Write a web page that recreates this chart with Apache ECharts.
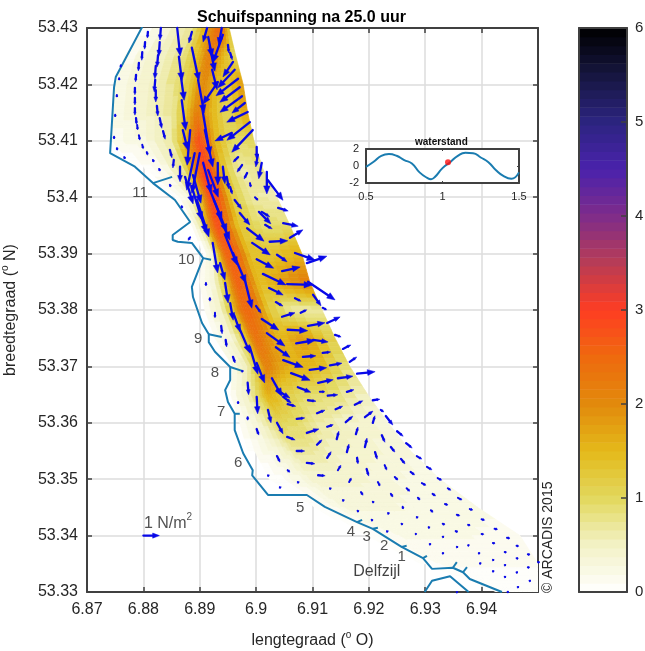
<!DOCTYPE html>
<html><head><meta charset="utf-8">
<style>html,body{margin:0;padding:0;background:#fff}#c{width:645px;height:651px}</style>
<script src="https://cdn.jsdelivr.net/npm/echarts@6/dist/echarts.min.js"></script>
</head><body><div id="c"></div>
<script>
const colorStops=[0,0.5,1,1.5,2,2.5,3,3.5,4,4.5,5,5.5,6];
const colorHex=['#ffffff','#f3f2c6','#e2d85e','#e4b91a','#e28a0c','#ee6a0e','#ff3d22','#b83c55','#7f2c8a','#4a22ac','#2c2480','#161640','#000000'];
const xTickFont=16;
const fieldLat=[53.43,53.425,53.42,53.415,53.41,53.405,53.40,53.395,53.39,53.385,53.38,53.375,53.37,53.365,53.36,53.355,53.35,53.345,53.34,53.335,53.33];
const fieldLeft=[6.8799,6.8767,6.8751,6.8746,6.8744,6.8787,6.8856,6.8886,6.8906,6.8900,6.8909,6.8927,6.8959,6.8955,6.8971,6.8985,6.9010,6.9095,6.9175,6.9273,6.9397];
const fieldRidge=[6.8927,6.8913,6.8900,6.8895,6.8897,6.8909,6.8922,6.8932,6.8950,6.8968,6.8985,6.9003,6.9024,6.9028,6.9051,6.9078,6.9113,6.9166,6.9255,6.9344,6.9432];
const fieldRight=[6.8952,6.8964,6.8977,6.8985,6.8996,6.9012,6.9037,6.9060,6.9081,6.9095,6.9117,6.9140,6.9166,6.9198,6.9234,6.9274,6.9326,6.9393,6.9468,6.95,6.95];
const fieldFracLeft=[0,0.4,0.7,0.88,1];
const fieldFracRight=[0.12,0.3,0.6,1];
const fieldValues=[
[0,0.4,0.8,1.7,2.2,2.4,2.6,2.4,1.2],
[0.1,0.5,0.8,1.4,2.1,2.2,2.0,1.5,0.9],
[0.2,0.5,0.8,1.2,1.9,2.0,1.6,1.2,1.9],
[0.2,0.45,0.7,1.4,2.2,2.0,1.5,1.0,1.8],
[0.1,0.3,0.7,1.7,2.8,2.6,1.6,1.0,1.0],
[0,0.15,0.8,2.4,3.0,2.7,1.4,0.6,0.8],
[0,0.3,1.4,2.6,3.0,2.7,1.3,0.7,0.6],
[0,0.8,2.1,2.6,2.8,2.4,1.3,0.9,0.9],
[0,0.4,1.8,2.5,2.6,2.6,1.4,1.3,1.6],
[0.1,0.4,1.4,2.3,2.6,2.4,1.4,1.8,2.2],
[0.1,0.5,1.6,2.4,2.5,2.3,1.2,0.6,0.7],
[0.1,0.4,1.2,2.2,2.4,2.0,1.5,1.9,1.0],
[0.2,0.6,1.4,2.1,2.1,1.8,1.6,1.5,0.8],
[0.1,0.5,1.1,1.6,1.6,1.2,1.0,0.9,0.5],
[0.1,0.4,0.8,1.1,1.0,1.0,0.7,0.5,0.3],
[0,0.25,0.45,0.7,0.7,0.7,0.5,0.4,0.3],
[0,0.1,0.3,0.4,0.4,0.4,0.4,0.3,0.2],
[0,0.1,0.2,0.3,0.3,0.3,0.3,0.25,0.2],
[0,0.05,0.1,0.15,0.2,0.2,0.2,0.2,0.15],
[0,0.05,0.1,0.1,0.1,0.1,0.1,0.1,0.1],
[0,0,0,0.05,0.05,0.05,0.05,0.05,0.05]
];
const coastMain=[[6.8798,53.4302],[6.8751,53.4213],[6.8748,53.4195],[6.8741,53.4078],[6.8785,53.4054],[6.8817,53.4025],[6.8856,53.3995],[6.8883,53.3956],[6.8852,53.3933],[6.8852,53.3924],[6.8861,53.3921],[6.8886,53.3919],[6.8906,53.3892],[6.8886,53.3841],[6.8888,53.3823],[6.8904,53.3777],[6.8916,53.3757],[6.8916,53.3743],[6.8927,53.3726],[6.8954,53.3699],[6.8954,53.3676],[6.8945,53.3658],[6.8950,53.3637],[6.8962,53.3616],[6.8962,53.3587],[6.8977,53.3546],[6.8994,53.3516],[6.8993,53.3507],[6.9021,53.3472],[6.9090,53.3472],[6.9122,53.3451],[6.9179,53.3424],[6.9207,53.3412],[6.9258,53.3380],[6.9296,53.3360],[6.9312,53.3341],[6.9349,53.3343],[6.9367,53.3335],[6.9379,53.3323],[6.9436,53.33]];
const coastIsland=[[6.9299,53.33],[6.9312,53.332],[6.9344,53.3328],[6.9377,53.33]];
const coastGroynes=[
[[6.8817,53.4025],[6.8851,53.4036]],
[[6.8906,53.3892],[6.8920,53.3889]],
[[6.8916,53.3757],[6.8939,53.3752]],
[[6.8954,53.3699],[6.8975,53.3692]],
[[6.8962,53.3616],[6.8971,53.3616]],
[[6.9179,53.3424],[6.9188,53.3428]],
[[6.9207,53.3412],[6.9216,53.3414]],
[[6.9258,53.3380],[6.9267,53.3382]],
[[6.9296,53.3360],[6.9303,53.3364]],
[[6.9349,53.3343],[6.9356,53.3353]],
[[6.9367,53.3335],[6.9374,53.3344]]
];
const placeLabels=[['11',6.8794,53.4007],['10',6.8876,53.3889],['9',6.8897,53.3749],['8',6.8927,53.3688],['7',6.8938,53.3619],['6',6.8968,53.3529],['5',6.9078,53.3449],['4',6.9168,53.3406],['3',6.9196,53.3398],['2',6.9227,53.3382],['1',6.9258,53.3362]];
const delfzijlLabel=['Delfzijl',6.9214,53.3337];
const refVector=[6.88,53.34,1,0];
const arrowScale=0.00284;
const vectors=[
[6.8760,53.4234,0,-.13],[6.8757,53.4211,0,-.13],[6.8753,53.4181,0,-.13],[6.8750,53.4146,0,-.13],[6.8748,53.4107,0,-.13],[6.8753,53.4087,.03,-.13],[6.8766,53.4071,.06,-.1],
[6.8808,53.4293,-.03,-.38],[6.8803,53.4275,-.03,-.44],[6.8798,53.4257,-.03,-.5],[6.8792,53.4238,-.03,-.5],[6.8787,53.4217,-.03,-.44],[6.8785,53.4194,0,-.44],[6.8785,53.4176,0,-.44],[6.8785,53.4158,0,-.44],[6.8787,53.4140,.03,-.38],[6.8789,53.4128,.03,-.31],[6.8792,53.4110,.06,-.31],[6.8798,53.4093,.06,-.25],[6.8806,53.4080,.06,-.19],[6.8817,53.4066,.06,-.13],[6.8828,53.4050,.06,-.13],[6.8847,53.4022,.06,-.13],[6.8868,53.3984,.03,-.13],
[6.8831,53.43,-.06,-.75],[6.8829,53.4275,-.06,-.88],[6.8826,53.4252,-.06,-.75],[6.8822,53.4233,-.06,-.81],[6.8821,53.4208,-.06,-.75],[6.8822,53.4190,0,-.75],[6.8824,53.4162,.06,-.63],[6.8829,53.4140,.13,-.63],[6.8835,53.4117,.13,-.5],[6.8847,53.4084,.13,-.5],[6.8854,53.4066,-.06,-.5],[6.8865,53.4054,0,-.94],
[6.8860,53.43,.19,-1.75],[6.8863,53.4249,.19,-1.5],[6.8867,53.4211,.19,-1.38],[6.8868,53.4172,.25,-1.88],[6.8870,53.4119,.31,-1.25],[6.8883,53.4119,-.19,-2.19],[6.8891,53.4078,-.5,-2.31],[6.8900,53.4078,-.5,-2.5],[6.8874,53.4036,.5,-1.69],[6.8888,53.4039,.5,-1.75],[6.8886,53.4018,.63,-2.06],[6.8900,53.3972,.44,-1.25],[6.8895,53.3995,.75,-2.31],
[6.8886,53.4293,-.19,-.69],[6.8886,53.4265,.44,-2.06],[6.8897,53.4208,.38,-2.06],[6.8904,53.4160,.5,-3],[6.8909,53.4119,.5,-2.31],[6.8906,53.4061,.5,-1.88],[6.8915,53.4048,.63,-1.69],[6.8918,53.4013,.75,-1.88],[6.8932,53.3972,.75,-1.69],[6.8925,53.3995,.81,-2],[6.8945,53.3933,.75,-1.88],[6.8959,53.3901,.81,-1.88],[6.8980,53.3853,.44,-1.75],[6.8923,53.3919,.31,-1.88],[6.8936,53.3883,.31,-1.06],[6.8945,53.3848,.19,-1.25],[6.8954,53.3812,.19,-1.06],[6.8961,53.3791,.38,-1.06],[6.8968,53.3773,.75,-1.75],[6.8989,53.3734,.5,-1.69],[6.9001,53.3706,.5,-1.25],
[6.8913,53.43,-.25,-.88],[6.8915,53.4284,.25,-1.25],[6.8918,53.4266,.31,-1.5],[6.8922,53.4226,.31,-1.25],
[6.8939,53.43,-.19,-1.06],[6.8941,53.4288,-.63,-1.75],[6.8950,53.4270,.06,-.5],[6.8954,53.4256,.13,-.44],[6.8959,53.4240,-.63,-.94],[6.8962,53.4226,-1.06,-1.13],[6.8968,53.4210,-1.38,-1.06],[6.8971,53.4195,-1.25,-.94],[6.8975,53.4179,-1.38,-1],[6.8980,53.4167,-.81,-.63],[6.8985,53.4151,-1.31,-.63],[6.8989,53.4133,-1.44,-1.13],[6.8994,53.4119,-1.31,-1.38],[6.8957,53.4114,-1.06,-.5],[6.8932,53.4204,-.94,-1.38],[6.8932,53.4061,0,-1.38],[6.8941,53.4054,.13,-1.06],[6.8948,53.4036,.13,-.75],[6.8954,53.4018,.13,-.44],
[6.9001,53.4089,0,-.75],[6.9003,53.4075,-.13,-.75],[6.9010,53.4061,-.19,-1],[6.9019,53.4045,0,-1.38],[6.9021,53.4030,.94,-1.25],[6.8968,53.4071,-.31,-.31],[6.8975,53.4057,-.31,-.44],[6.8984,53.4043,-.19,-.38],[6.8989,53.4025,.06,-.25],[6.8998,53.4000,.19,-.19],[6.8962,53.3995,.44,-.56],[6.9010,53.3974,.5,-.31],[6.9039,53.3981,.63,-.19],[6.8971,53.3972,.63,-.75],[6.9005,53.3974,.75,-.75],[6.9016,53.3951,.44,-.25],[6.9048,53.3954,.94,-.19],[6.9060,53.3928,.81,.5],[6.9024,53.3921,1.13,.06],[6.8984,53.3945,1.06,-.81],[6.8993,53.3919,1.13,-.75],[6.9001,53.3890,1.06,-.56],[6.9037,53.3898,.63,-.44],[6.9069,53.3901,1.25,-.44],[6.9090,53.3883,1.25,.44],[6.9046,53.3869,1.13,.25],[6.9012,53.3864,1.44,-.69],[6.9055,53.3846,1.56,-.06],[6.9092,53.3850,1.69,-1.13],[6.9023,53.3839,.88,-.44],[6.9069,53.3821,.38,-.19],[6.9101,53.3827,.5,-.69],[6.9035,53.3814,.44,-.25],[6.9118,53.3804,.25,-.13],[6.9000,53.3807,.31,-.44],[6.9046,53.3788,.81,.25],[6.9079,53.3795,.38,.19],[6.9010,53.3784,1.06,-.69],[6.9092,53.3772,1.06,.19],[6.9126,53.3777,.81,.38],[6.9056,53.3765,1.25,-.06],[6.9019,53.3759,1.13,-.81],[6.9140,53.3756,.38,-.13],[6.9101,53.3747,.94,-.13],[6.9071,53.3741,1.19,.19],[6.9035,53.3734,.88,-.63],[6.9154,53.3731,.5,.25],[6.9083,53.3717,.81,.06],[6.9118,53.3724,.5,.06],[6.9048,53.3711,1.25,-.44],[6.9131,53.3702,.75,.13],[6.9166,53.3708,.44,.31],[6.9095,53.3694,1.06,.13],[6.9062,53.3688,1.19,-.44],[6.9145,53.3679,.94,.13],[6.9110,53.3671,.94,.19],[6.9179,53.3687,1.13,.13],[6.9028,53.3679,.63,-1.13],[6.9074,53.3663,.81,-.31],[6.9161,53.3655,.44,.13],[6.9113,53.3655,.31,0],[6.9048,53.3646,.5,-.38],[6.8985,53.3671,.06,-.75],[6.9001,53.3646,.06,-1.06],
[6.8883,53.3929,-.13,-.19],[6.8911,53.3848,0,-.19],[6.8918,53.3821,0,-.19],[6.8927,53.3795,0,-.31],[6.8938,53.3772,.06,-.5],[6.8946,53.3747,.06,-.44],[6.8959,53.3717,.13,-.38],[6.8975,53.3692,.06,-.06],[6.8968,53.3637,0,-.13],[6.8985,53.3610,0,-.19],[6.9001,53.3589,.13,-.38],[6.9021,53.3623,.19,-.81],[6.9037,53.3600,.38,-.69],[6.9037,53.3658,.81,-.5],[6.9055,53.3575,.5,-.19],[6.9056,53.3633,.5,-.13],[6.9092,53.3640,.5,-.06],[6.9127,53.3648,.63,.06],[6.9108,53.3617,.5,.19],[6.9072,53.3607,.5,.06],[6.9141,53.3624,.44,.19],[6.9175,53.3632,.5,.25],[6.9207,53.3640,.44,.06],[6.9221,53.3623,.19,-.13],[6.9193,53.3610,.5,.38],[6.9159,53.3601,.44,.38],[6.9126,53.3593,.38,.13],[6.9090,53.3582,.75,.25],[6.9230,53.3612,.44,-.56],[6.9207,53.3600,.13,.44],[6.9250,53.3585,.38,-.31],[6.9143,53.3571,.13,.5],[6.9177,53.3580,.13,.44],[6.9223,53.3578,.19,-.44],[6.9193,53.3557,.13,.56],[6.9266,53.3564,.38,-.31],[6.9108,53.3561,.31,.31],[6.9072,53.3550,.5,0],[6.9161,53.3548,.13,.5],[6.9239,53.3557,.25,-.31],[6.9126,53.3538,.25,.38],[6.9211,53.3548,.13,-.44],[6.9285,53.3541,.31,-.19],[6.9257,53.3536,.25,-.31],[6.9090,53.3529,.5,-.06],[6.9179,53.3538,.06,-.38],[6.9037,53.3541,.19,-.38],[6.9228,53.3525,.13,-.31],[6.9303,53.3522,.31,-.19],[6.9145,53.3516,.19,.31],[6.9274,53.3513,.25,-.19],[6.9056,53.3516,.13,-.13],[6.9196,53.3518,.13,-.44],[6.9110,53.3507,.44,-.03],[6.9021,53.3507,.06,-.06],[6.9322,53.3502,.25,-.13],[6.9246,53.3504,.19,-.19],[6.9294,53.3493,.25,-.13],[6.9165,53.3495,.13,.25],[6.9216,53.3495,.13,-.25],[6.9267,53.3484,.19,-.19],[6.9340,53.3484,.19,-.13],[6.9074,53.3495,.06,-.06],[6.9042,53.3486,.06,-.06],[6.9313,53.3474,.19,-.13],[6.9131,53.3484,.06,-.06],[6.9186,53.3477,.13,-.19],[6.9358,53.3467,.25,-.13],[6.9287,53.3467,.13,-.13],[6.9239,53.3474,.13,-.19],[6.9154,53.3463,.06,-.06],[6.9335,53.3456,.19,-.06],[6.9379,53.3447,.19,-.06],[6.9260,53.3451,.03,-.13],[6.9310,53.3445,.13,-.13],[6.9207,53.3460,.06,-.06],[6.9356,53.3437,.19,-.06],[6.9400,53.3429,.19,-.06],[6.9285,53.3433,.06,-.06],[6.9234,53.3440,.06,-.06],[6.9180,53.3444,.06,-.06],[6.9376,53.3419,.13,-.03],[6.9423,53.3412,.19,-.03],[6.9331,53.3421,.13,-.06],[6.9306,53.3415,.06,-.06],[6.9258,53.3421,.06,-.06],[6.9205,53.3428,.06,-.06],[6.9232,53.3408,.06,-.06],[6.9400,53.3403,.13,-.03],[6.9445,53.3396,.19,-.03],[6.9354,53.3408,.13,-.06],[6.9331,53.3398,.06,-.03],[6.9283,53.3403,.03,-.03],[6.9308,53.3385,.06,-.03],[6.9420,53.3387,.13,-.03],[6.9462,53.3382,.13,-.03],[6.9376,53.3383,.06,-.03],[6.9356,53.3380,.06,-.03],[6.9331,53.3369,.06,-.03],[6.9395,53.3369,.06,-.03],[6.9441,53.3371,.1,-.03],[6.9482,53.3367,.13,-.03],[6.9420,53.3357,.06,-.03],[6.9462,53.3360,.1,-.03],[6.9397,53.3351,.06,-.03],[6.9441,53.3348,.06,-.03],[6.9482,53.3344,.1,-.03],[6.9500,53.3353,.1,-.03],[6.9420,53.3337,.06,-.03],[6.9462,53.3335,.06,-.03],[6.9441,53.3327,.06,-.03],[6.9485,53.3320,.06,-.03],[6.9464,53.3309,.06,-.03],[6.9446,53.33,.06,0],[6.9356,53.33,.03,-.03]
];
const waterTime=[0.5,0.55,0.6,0.65,0.7,0.75,0.8,0.85,0.9,0.925,0.95,1,1.05,1.1,1.15,1.2,1.25,1.3,1.35,1.4,1.45,1.5];
const waterLevel=[-0.1,0.5,1.2,1.4,1.2,0.7,0.3,-0.75,-1.4,-1.55,-1.3,-0.25,0.45,1.2,1.55,1.5,1.0,0.45,-0.5,-1.2,-1.5,-0.75];
const waterNow=[1.036,0.45];

function colorFor(v){
  const lev=Math.min(63,Math.max(0,Math.floor(v/6*64)));
  const t=(lev+0.5)/64*6;
  let i=0; while(i<colorStops.length-2 && t>colorStops[i+1]) i++;
  const f=(t-colorStops[i])/(colorStops[i+1]-colorStops[i]);
  const a=colorHex[i],b=colorHex[i+1];
  const ch=k=>Math.round(parseInt(a.substr(k,2),16)*(1-f)+parseInt(b.substr(k,2),16)*f);
  return 'rgb('+ch(1)+','+ch(3)+','+ch(5)+')';
}
function stationLon(r,s){
  return s<=4? fieldLeft[r]+(fieldRidge[r]-fieldLeft[r])*fieldFracLeft[s]
             : fieldRidge[r]+(fieldRight[r]-fieldRidge[r])*fieldFracRight[s-5];
}
const fieldCells=[];
for(let r=0;r<fieldLat.length-1;r++)for(let s=0;s<8;s++)fieldCells.push([fieldRidge[r],fieldLat[r],r,s]);
const NA=7,NB=3;
function renderField(params,api){
  const c=fieldCells[params.dataIndex],r=c[2],s=c[3];
  const P=(tr,ts)=>{
    const lt=stationLon(r,s)*(1-ts)+stationLon(r,s+1)*ts;
    const lb=stationLon(r+1,s)*(1-ts)+stationLon(r+1,s+1)*ts;
    return api.coord([lt*(1-tr)+lb*tr,fieldLat[r]*(1-tr)+fieldLat[r+1]*tr]);
  };
  const V=(tr,ts)=>{
    const vt=fieldValues[r][s]*(1-ts)+fieldValues[r][s+1]*ts;
    const vb=fieldValues[r+1][s]*(1-ts)+fieldValues[r+1][s+1]*ts;
    return vt*(1-tr)+vb*tr;
  };
  const children=[];
  for(let a=0;a<NA;a++)for(let b=0;b<NB;b++){
    const t0=a/NA,t1=(a+1)/NA,s0=b/NB,s1=(b+1)/NB;
    const v=V((t0+t1)/2,(s0+s1)/2);
    if(v<0.04)continue;
    const col=colorFor(v);
    children.push({type:'polygon',silent:true,shape:{points:[P(t0,s0),P(t0,s1),P(t1,s1),P(t1,s0)]},style:{fill:col,stroke:col,lineWidth:0.7}});
  }
  return {type:'group',children};
}
function renderArrow(params,api){
  const lon=api.value(0),lat=api.value(1),u=api.value(2),v=api.value(3);
  const p0=api.coord([lon,lat]),p1=api.coord([lon+u*arrowScale,lat+v*arrowScale]);
  const dx=p1[0]-p0[0],dy=p1[1]-p0[1];
  const L=Math.max(Math.hypot(dx,dy),0.01),ux=dx/L,uy=dy/L;
  const hl=L<4?L*0.6:Math.min(L*0.42,8);
  const hw=Math.max(1.2,Math.min(L*0.16,3.2));
  const bx=p1[0]-ux*hl,by=p1[1]-uy*hl;
  const col='#0808e8';
  return {type:'group',silent:true,children:[
    {type:'line',shape:{x1:p0[0],y1:p0[1],x2:bx,y2:by},style:{stroke:col,lineWidth:L>6?2.3:2,lineCap:'round'}},
    {type:'polygon',shape:{points:[p1,[bx-uy*hw,by+ux*hw],[bx+uy*hw,by-ux*hw]]},style:{fill:col,stroke:col,lineWidth:0.5}}
  ]};
}
const cbCells=[];
for(let i=0;i<64;i++)cbCells.push([0.5,i]);
function renderBar(params,api){
  const i=params.dataIndex;
  const a=api.coord([0,i/64*6]),b=api.coord([1,(i+1)/64*6]);
  const col=colorFor((i+0.5)/64*6);
  return {type:'rect',silent:true,shape:{x:a[0],y:b[1],width:b[0]-a[0],height:a[1]-b[1]+0.5},style:{fill:col}};
}
const ink='#262626',axisCol='#404040',coastCol='#1a7cb0';
const lineS={lineStyle:{color:axisCol,width:2}};
const noTick={show:false};
const coastSeries=[coastMain,coastIsland].concat(coastGroynes).map(d=>({type:'line',xAxisIndex:0,yAxisIndex:0,data:d,showSymbol:false,silent:true,z:3,lineStyle:{color:coastCol,width:2},itemStyle:{color:coastCol},clip:true}));
const rich={n:{fontSize:16,color:ink,fontFamily:'Liberation Sans'},s:{fontSize:10,color:ink,fontFamily:'Liberation Sans',verticalAlign:'top',lineHeight:22}};
const option={
  animation:false,backgroundColor:'#fff',
  textStyle:{fontFamily:'Liberation Sans'},
  title:{text:'Schuifspanning na 25.0 uur',left:192,top:5,textStyle:{fontFamily:'Liberation Sans',fontSize:16,fontWeight:'bold',color:'#000'}},
  grid:[
    {left:87,top:28,width:451,height:564,outerBoundsMode:'none'},
    {left:366,top:149,width:153,height:34,show:true,backgroundColor:'#fff',borderWidth:0,z:1,outerBoundsMode:'none'},
    {left:579,top:28,width:48,height:564,outerBoundsMode:'none'}
  ],
  xAxis:[
    {gridIndex:0,type:'value',min:6.87,max:6.95,interval:0.01,name:'{n|lengtegraad (}{s|o}{n| O)}',nameLocation:'middle',nameGap:38,nameTextStyle:{rich},
     axisLine:{onZero:false,...lineS},axisTick:{inside:true,length:5,lineStyle:{color:axisCol,width:1.5}},axisLabel:{color:ink,fontSize:xTickFont,margin:10,showMaxLabel:false},splitLine:{show:true,lineStyle:{color:'#dcdcdc',width:1.5}}},
    {gridIndex:0,type:'value',position:'top',min:6.87,max:6.95,interval:0.01,axisLine:{onZero:false,...lineS},axisTick:{inside:true,length:5,lineStyle:{color:axisCol,width:1.5}},axisLabel:{show:false},splitLine:{show:false}},
    {gridIndex:1,type:'value',min:0.5,max:1.5,interval:0.5,z:3,axisLine:{onZero:false,...lineS},axisTick:{inside:true,length:2,lineStyle:{color:axisCol}},axisLabel:{color:ink,fontSize:11,margin:8},splitLine:{show:false}},
    {gridIndex:1,type:'value',position:'top',min:0.5,max:1.5,interval:0.5,z:3,axisLine:{onZero:false,...lineS},axisTick:{inside:true,length:2,lineStyle:{color:axisCol}},axisLabel:{show:false},splitLine:{show:false}},
    {gridIndex:2,type:'value',min:0,max:1,z:3,axisLine:{onZero:false,...lineS},axisTick:noTick,axisLabel:{show:false},splitLine:{show:false}},
    {gridIndex:2,type:'value',position:'top',min:0,max:1,z:3,axisLine:{onZero:false,...lineS},axisTick:noTick,axisLabel:{show:false},splitLine:{show:false}}
  ],
  yAxis:[
    {gridIndex:0,type:'value',min:53.33,max:53.43,interval:0.01,name:'{n|breedtegraad (}{s|o}{n| N)}',nameLocation:'middle',nameGap:65,nameTextStyle:{rich},
     axisLine:{onZero:false,...lineS},axisTick:{inside:true,length:5,lineStyle:{color:axisCol,width:1.5}},axisLabel:{color:ink,fontSize:xTickFont,margin:9},splitLine:{show:true,lineStyle:{color:'#dcdcdc',width:1.5}}},
    {gridIndex:0,type:'value',position:'right',min:53.33,max:53.43,interval:0.01,axisLine:{onZero:false,...lineS},axisTick:{inside:true,length:5,lineStyle:{color:axisCol,width:1.5}},axisLabel:{show:false},splitLine:{show:false}},
    {gridIndex:1,type:'value',min:-2,max:2,interval:2,z:3,axisLine:{onZero:false,...lineS},axisTick:{inside:true,length:2,lineStyle:{color:axisCol}},axisLabel:{color:ink,fontSize:11,margin:7},splitLine:{show:false}},
    {gridIndex:1,type:'value',position:'right',min:-2,max:2,interval:2,z:3,axisLine:{onZero:false,...lineS},axisTick:{inside:true,length:2,lineStyle:{color:axisCol}},axisLabel:{show:false},splitLine:{show:false}},
    {gridIndex:2,type:'value',position:'right',min:0,max:6,interval:1,z:3,axisLine:{onZero:false,...lineS},axisTick:{inside:true,length:6,lineStyle:{color:axisCol,width:1.5}},axisLabel:{color:ink,fontSize:15,margin:8},splitLine:{show:false}},
    {gridIndex:2,type:'value',position:'left',min:0,max:6,z:3,axisLine:{onZero:false,...lineS},axisTick:noTick,axisLabel:{show:false},splitLine:{show:false}}
  ],
  series:[
    {type:'custom',xAxisIndex:0,yAxisIndex:0,data:fieldCells,renderItem:renderField,clip:true,silent:true,z:2,encode:{x:0,y:1}},
    ...coastSeries,
    {type:'custom',xAxisIndex:0,yAxisIndex:0,data:vectors,renderItem:renderArrow,clip:false,silent:true,z:4,encode:{x:0,y:1}},
    {type:'custom',xAxisIndex:0,yAxisIndex:0,data:[refVector],renderItem:renderArrow,clip:false,silent:true,z:4,encode:{x:0,y:1}},
    {type:'scatter',xAxisIndex:0,yAxisIndex:0,symbolSize:0,silent:true,z:5,data:placeLabels.map(d=>({name:d[0],value:[d[1],d[2]]})),
     label:{show:true,position:'inside',formatter:'{b}',color:ink,fontSize:15}},
    {type:'scatter',xAxisIndex:0,yAxisIndex:0,symbolSize:0,silent:true,z:5,data:[{name:delfzijlLabel[0],value:[delfzijlLabel[1],delfzijlLabel[2]]}],
     label:{show:true,position:'inside',formatter:'{b}',color:'#111',fontSize:16}},
    {type:'scatter',xAxisIndex:0,yAxisIndex:0,symbolSize:0,silent:true,z:5,data:[[6.8801,53.3422]],
     label:{show:true,position:'inside',align:'left',formatter:'{n|1 N/m}{s|2}',rich}},
    {type:'line',xAxisIndex:2,yAxisIndex:2,z:6,data:waterTime.map((t,i)=>[t,waterLevel[i]]),smooth:true,showSymbol:false,silent:true,lineStyle:{color:coastCol,width:2}},
    {type:'scatter',xAxisIndex:2,yAxisIndex:2,z:7,data:[waterNow],symbolSize:6,silent:true,itemStyle:{color:'#ff1010'}},
    {type:'custom',xAxisIndex:4,yAxisIndex:4,data:cbCells,renderItem:renderBar,silent:true,z:2,encode:{x:0,y:1}}
  ],
  graphic:[
    {type:'text',left:442-27,top:137,z:10,style:{text:'waterstand',font:'bold 10px "Liberation Sans"',fill:'#111'}},
    {type:'text',x:541,y:593,rotation:Math.PI/2,z:10,style:{text:'© ARCADIS 2015',font:'14px "Liberation Sans"',fill:ink}}
  ]
};
echarts.init(document.getElementById('c'),null,{renderer:'canvas'}).setOption(option);
</script>
</body></html>
